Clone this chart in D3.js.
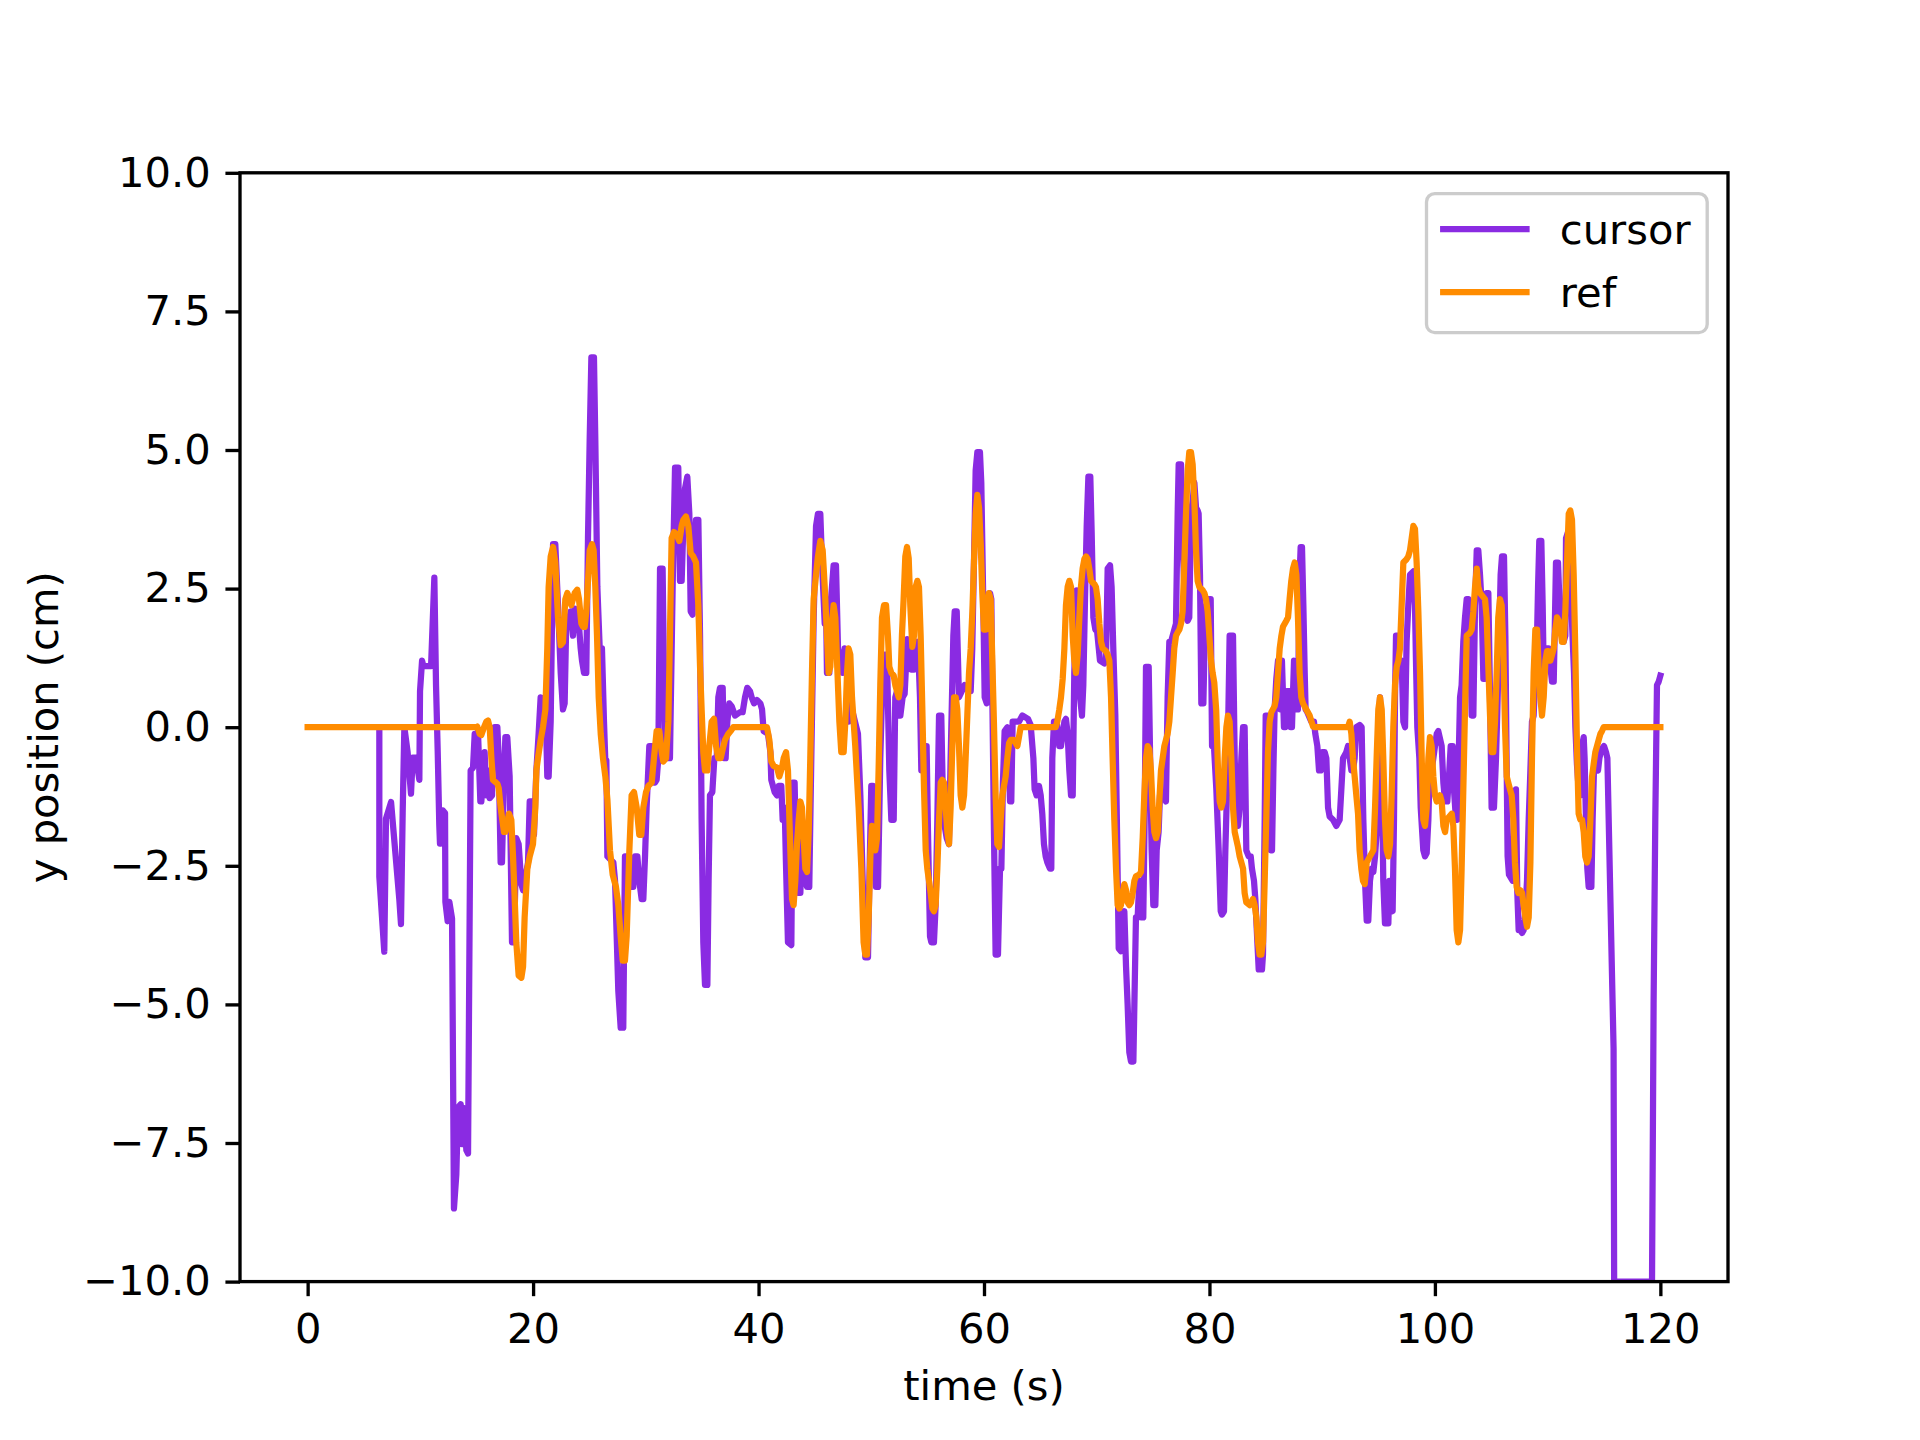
<!DOCTYPE html>
<html>
<head>
<meta charset="utf-8">
<script src="https://cdn.jsdelivr.net/npm/d3@7"></script>
<style>
body { margin: 0; background: #fff; }
svg { display: block; font-family: "DejaVu Sans", sans-serif; }
</style>
</head>
<body>
<div id="chart"></div>
<script>
// [time (s), y position (cm)]
const cursor = [
[6.36,0],[6.36,-2.7],[6.8,-4.05],[6.95,-1.65],[7.4,-1.35],[8.13,-3.1],[8.28,-3.55],[8.43,-1.55],[8.58,0],[8.87,-0.45],
[9.17,-1.2],[9.32,-0.55],[9.61,-0.55],[9.91,-0.95],[9.97,0.65],[10.15,1.2],[10.27,1.1],[10.95,1.1],[11.24,2.7],[11.39,0.75],
[11.54,-0.45],[11.68,-1.77],[11.74,-2.1],[11.98,-1.5],[12.19,-1.55],[12.22,-3.15],[12.42,-3.5],[12.57,-3.15],[12.81,-3.45],[12.98,-8.68],
[13.19,-8.07],[13.34,-6.86],[13.58,-6.8],[13.69,-7.52],[13.78,-6.86],[13.93,-7.08],[14.08,-7.63],[14.23,-7.69],[14.46,-0.78],[14.67,-0.73],
[14.82,-0.12],[14.97,-0.45],[15.11,-0.07],[15.32,-1.34],[15.41,-1.34],[15.7,-0.45],[15.85,-1.23],[16.0,-0.78],[16.15,-1.28],[16.36,-1.23],
[16.44,-0.56],[16.59,0],[16.83,0],[16.95,-0.56],[17.12,-2.44],[17.24,-2.44],[17.42,-0.89],[17.54,-0.18],[17.71,-0.18],[17.92,-0.89],
[18.13,-3.88],[18.31,-3.88],[18.51,-2.0],[18.72,-2.11],[18.96,-2.83],[19.11,-2.94],[19.31,-2.72],[19.55,-2.44],[19.7,-1.34],[19.9,-1.34],
[20.08,-1.94],[20.29,-0.78],[20.49,-0.12],[20.67,0.54],[20.88,0.1],[21.09,0.54],[21.26,-0.89],[21.38,-0.89],[21.56,0.1],[21.77,3.3],
[21.97,3.3],[22.21,2.2],[22.45,0.98],[22.65,0.32],[22.8,0.43],[22.95,1.98],[23.16,1.87],[23.33,2.09],[23.54,1.65],[23.69,2.14],
[23.84,1.76],[24.04,1.92],[24.22,1.42],[24.34,1.2],[24.52,0.98],[24.72,0.98],[24.87,3.41],[25.02,5.18],[25.17,6.67],[25.4,6.67],
[25.52,5.18],[25.7,2.53],[25.91,1.42],[26.11,1.42],[26.29,0.1],[26.4,-0.56],[26.5,-0.6],[26.59,-2.33],[27.12,-2.44],[27.27,-2.77],
[27.56,-4.76],[27.77,-5.42],[28.0,-5.42],[28.15,-2.33],[28.36,-2.33],[28.74,-2.88],[28.89,-2.88],[29.04,-2.33],[29.25,-2.33],[29.42,-2.77],
[29.63,-3.1],[29.78,-3.1],[29.93,-2.33],[30.07,-1.45],[30.31,-0.34],[30.52,-0.34],[30.81,-1.0],[30.96,-0.95],[31.11,-0.56],[31.26,2.86],
[31.49,2.86],[31.61,0.98],[31.76,-0.56],[32.14,-0.56],[32.38,2.53],[32.59,4.68],[32.88,4.68],[33.03,2.64],[33.18,2.64],[33.33,3.63],
[33.47,4.3],[33.68,4.52],[33.86,3.85],[33.98,2.09],[34.15,2.03],[34.27,3.3],[34.45,3.74],[34.66,3.74],[34.81,1.65],[34.95,-1.67],
[35.1,-3.88],[35.25,-4.65],[35.46,-4.65],[35.57,-2.77],[35.69,-1.23],[35.9,-1.17],[36.08,-0.56],[36.29,-0.56],[36.43,0.54],[36.58,0.71],
[36.82,0.71],[36.93,-0.56],[37.08,-0.56],[37.23,0.1],[37.41,0.43],[37.61,0.38],[37.91,0.21],[38.35,0.27],[38.59,0.27],[38.8,0.54],
[39.0,0.71],[39.24,0.65],[39.39,0.54],[39.6,0.43],[39.86,0.49],[40.16,0.43],[40.31,0.32],[40.45,-0.07],[40.84,-0.12],[41.05,-0.45],
[41.13,-0.95],[41.43,-1.17],[41.64,-1.23],[41.78,-1.06],[42.02,-1.06],[42.14,-1.67],[42.32,-1.45],[42.43,-2.44],[42.61,-3.88],[42.91,-3.93],
[43.03,-1.0],[43.2,-1.0],[43.32,-2.22],[43.5,-2.99],[43.71,-2.99],[43.85,-1.67],[44.0,-1.78],[44.15,-2.77],[44.3,-2.88],[44.5,-2.88],
[44.68,-0.56],[44.89,1.98],[45.1,3.63],[45.27,3.85],[45.48,3.85],[45.63,2.97],[45.87,1.87],[45.98,2.31],[46.07,0.98],[46.28,0.98],
[46.43,2.31],[46.66,2.92],[46.87,2.92],[47.05,1.42],[47.25,1.2],[47.46,0.98],[47.64,1.42],[47.85,0.98],[47.99,0.1],[48.29,0.32],
[48.82,-0.12],[49.03,-1.23],[49.24,-2.77],[49.47,-4.15],[49.71,-4.15],[49.83,-2.77],[50.0,-1.06],[50.15,-1.06],[50.3,-2.0],[50.42,-2.88],
[50.6,-2.88],[50.8,-0.56],[51.01,0.98],[51.19,1.31],[51.39,1.31],[51.6,-0.78],[51.78,-1.67],[51.99,-1.67],[52.13,0.54],[52.28,0.65],
[52.43,0.21],[52.58,0.21],[52.78,0.54],[52.96,0.6],[53.2,1.59],[53.35,1.54],[53.55,1.04],[53.79,1.04],[53.94,1.54],[54.14,1.54],
[54.32,0.54],[54.44,-0.78],[54.62,-0.78],[54.74,-0.34],[54.91,-0.34],[55.03,-1.89],[55.21,-3.77],[55.33,-3.88],[55.56,-3.88],[55.71,-3.21],
[55.86,-1.67],[56.01,0.21],[56.21,0.21],[56.39,-1.67],[56.51,-1.78],[56.69,-2.0],[56.89,-2.11],[57.04,-0.56],[57.28,1.65],[57.4,2.09],
[57.58,2.09],[57.78,0.54],[58.28,0.76],[58.67,0.65],[58.82,0.65],[58.96,1.42],[59.11,2.97],[59.26,4.63],[59.41,4.96],[59.64,4.96],
[59.76,4.41],[59.94,2.2],[60.06,0.54],[60.24,0.43],[60.35,1.42],[60.53,2.42],[60.65,2.31],[60.74,0.54],[60.89,-2.0],[61.03,-4.1],
[61.24,-4.1],[61.42,-2.55],[61.54,-2.55],[61.68,-1.0],[61.83,-0.07],[62.07,0],[62.31,-1.34],[62.42,-1.34],[62.54,0.1],[62.81,0.1],
[63.1,0.1],[63.4,0.21],[63.9,0.15],[64.14,0.04],[64.38,-0.56],[64.49,-1.12],[64.67,-1.23],[64.88,-1.06],[65.03,-1.23],[65.17,-1.56],
[65.32,-2.11],[65.47,-2.33],[65.62,-2.44],[65.85,-2.55],[65.97,-2.55],[66.06,-0.56],[66.21,0.1],[66.45,0.1],[66.68,-0.34],[66.83,-0.34],
[67.13,0.1],[67.27,0.15],[67.42,-0.12],[67.57,-0.78],[67.72,-1.23],[67.87,-1.23],[68.01,0.98],[68.22,2.47],[68.4,2.42],[68.52,0.54],
[68.69,0.21],[68.81,0.76],[68.96,2.31],[69.11,3.63],[69.26,4.52],[69.43,4.52],[69.55,3.52],[69.7,1.98],[69.88,1.76],[70.02,1.76],
[70.29,1.2],[70.67,1.15],[70.82,1.2],[70.97,2.86],[71.18,2.92],[71.32,2.53],[71.47,1.42],[71.65,0.21],[71.77,-1.45],[71.95,-3.99],
[72.15,-4.04],[72.3,-3.43],[72.45,-3.32],[72.6,-4.32],[72.74,-5.0],[72.89,-5.86],[73.04,-6.03],[73.25,-6.03],[73.34,-5.0],[73.48,-3.43],
[73.63,-3.43],[73.78,-2.77],[73.93,-3.43],[74.13,-3.43],[74.25,-1.67],[74.37,1.09],[74.61,1.09],[74.72,-0.34],[74.87,-2.22],[75.02,-3.21],
[75.2,-3.21],[75.32,-2.22],[75.49,-1.89],[75.61,-1.23],[75.79,-1.17],[76.14,-1.34],[76.29,0.54],[76.44,1.54],[76.59,1.54],[77.03,1.87],
[77.18,3.85],[77.27,4.74],[77.48,4.74],[77.62,3.3],[77.77,2.53],[77.92,1.98],[78.07,1.92],[78.21,1.98],[78.36,3.85],[78.51,4.08],
[78.66,4.41],[78.81,3.96],[78.95,3.91],[79.04,3.85],[79.16,2.75],[79.28,0.43],[79.46,0.43],[79.63,2.09],[79.84,2.31],[80.11,2.31],
[80.23,-0.34],[80.4,-0.34],[80.61,-1.12],[80.82,-2.22],[81.0,-3.32],[81.11,-3.38],[81.29,-3.32],[81.41,-2.22],[81.59,-0.89],[81.7,0.54],
[81.79,1.65],[82.09,1.65],[82.24,-0.56],[82.38,-1.56],[82.53,-1.78],[82.68,-1.45],[82.83,-0.56],[82.98,0],[83.12,0],[83.27,-2.22],
[83.48,-2.33],[83.66,-2.33],[83.77,-2.55],[83.95,-2.77],[84.07,-3.1],[84.25,-3.88],[84.37,-4.37],[84.66,-4.37],[84.75,-4.1],[84.9,-1.67],
[84.99,0.21],[85.19,0.21],[85.28,-1.23],[85.43,-2.22],[85.55,-2.22],[85.67,-0.78],[85.78,0.32],[85.93,0.87],[86.08,1.2],[86.17,0.54],
[86.29,0.32],[86.43,1.2],[86.61,0],[86.73,0],[86.85,0.65],[87.11,0.65],[87.2,0],[87.32,0],[87.5,1.2],[87.62,1.09],
[87.74,0.32],[87.85,0.32],[88.0,2.75],[88.09,3.25],[88.21,3.25],[88.33,2.2],[88.45,0.98],[88.53,0.32],[88.68,0.27],[89.04,0.1],
[89.27,0.1],[89.39,-0.12],[89.57,-0.34],[89.72,-0.78],[89.87,-0.78],[90.01,-0.45],[90.22,-0.45],[90.37,-0.56],[90.52,-1.45],[90.66,-1.61],
[90.96,-1.67],[91.26,-1.78],[91.55,-1.67],[91.7,-1.12],[91.85,-0.56],[92.14,-0.45],[92.29,-0.34],[92.44,-0.56],[92.59,-0.78],[92.73,-0.78],
[92.88,-0.56],[93.03,0],[93.32,0.04],[93.5,0],[93.65,-1.67],[93.8,-2.77],[93.95,-3.49],[94.09,-3.49],[94.24,-2.77],[94.39,-2.55],
[94.54,-2.61],[94.69,-2.33],[94.83,-1.89],[94.98,-0.56],[95.13,0.54],[95.28,-0.56],[95.42,-2.77],[95.57,-3.54],[95.87,-3.54],[95.96,-2.77],
[96.08,-3.1],[96.25,-3.32],[96.37,-1.67],[96.46,0.54],[96.55,1.65],[96.67,1.65],[96.84,0.98],[97.05,1.2],[97.2,0.1],[97.35,0],
[97.49,1.54],[97.64,2.2],[97.79,2.75],[98.09,2.81],[98.23,2.2],[98.32,1.2],[98.44,0],[98.62,-0.56],[98.74,-1.45],[98.97,-2.22],
[99.12,-2.33],[99.27,-2.27],[99.42,-1.67],[99.56,-0.56],[99.71,-0.78],[99.86,-0.56],[100.16,-0.12],[100.3,-0.07],[100.6,-0.34],[100.75,-1.0],
[100.9,-1.34],[101.1,-1.34],[101.28,-0.78],[101.4,-0.34],[101.58,-0.34],[101.69,-1.12],[101.87,-1.67],[101.99,-1.67],[102.11,-0.56],[102.23,0.54],
[102.37,0.76],[102.52,1.54],[102.67,1.98],[102.82,2.31],[102.97,2.31],[103.11,1.87],[103.26,0.21],[103.41,0.21],[103.56,2.2],[103.71,3.19],
[103.85,3.19],[104.0,2.75],[104.15,2.2],[104.3,0.87],[104.44,0.87],[104.59,2.42],[104.74,2.42],[104.89,0.54],[105.03,-1.45],[105.24,-1.45],
[105.42,-0.56],[105.54,0.32],[105.71,1.65],[105.83,2.75],[105.95,3.08],[106.13,3.08],[106.25,1.65],[106.37,-0.78],[106.45,-2.33],[106.57,-2.66],
[106.9,-2.77],[107.02,-1.67],[107.19,-1.12],[107.31,-2.99],[107.43,-3.66],[107.58,-3.66],[107.73,-3.71],[107.87,-3.66],[108.02,-3.32],[108.17,-2.77],
[108.32,-1.67],[108.47,-0.78],[108.61,0.1],[108.76,0.21],[108.91,0.98],[109.06,1.65],[109.15,2.53],[109.26,3.36],[109.44,3.36],[109.56,2.2],
[109.65,0.98],[109.8,1.42],[110.09,1.42],[110.24,1.09],[110.39,0.82],[110.54,0.82],[110.62,1.65],[110.74,2.97],[110.92,2.97],[111.04,2.31],
[111.13,2.09],[111.27,1.87],[111.42,1.54],[111.57,1.65],[111.63,3.41],[111.81,3.52],[111.93,2.2],[112.1,2.2],[112.34,0.98],[112.46,0],
[112.6,-0.67],[112.75,-1.12],[112.9,-1.23],[113.05,-0.34],[113.2,-0.18],[113.28,-0.56],[113.4,-1.67],[113.52,-2.55],[113.64,-2.88],[113.88,-2.88],
[113.99,-1.67],[114.11,-0.78],[114.29,-0.67],[114.47,-0.78],[114.59,-0.56],[114.76,-0.4],[115.0,-0.34],[115.18,-0.45],[115.3,-0.56],[115.85,-5.8],
[115.9,-10],[119.26,-10],[119.4,-5.0],[119.55,-1.67],[119.7,0.76],[119.85,0.82],[120.0,0.93]
];

const ref = [
[0,0],[14.97,0],[15.05,0.01],[15.26,-0.12],[15.41,-0.14],[15.65,0],[15.85,0.1],[16.0,0.12],[16.15,0],[16.3,-0.56],
[16.44,-0.95],[16.83,-1.02],[16.95,-1.1],[17.12,-1.44],[17.27,-1.67],[17.42,-1.89],[17.54,-1.89],[17.71,-1.72],[17.86,-1.56],[18.07,-1.67],
[18.22,-2.33],[18.37,-3.1],[18.51,-3.88],[18.72,-4.48],[18.96,-4.52],[19.11,-4.32],[19.25,-3.43],[19.49,-2.55],[19.7,-2.33],[19.99,-2.11],
[20.2,-1.45],[20.29,-0.78],[20.43,-0.56],[20.67,-0.23],[20.88,0],[21.09,0.32],[21.26,1.42],[21.38,2.53],[21.56,3.08],[21.77,3.25],
[21.97,2.97],[22.21,1.98],[22.45,1.48],[22.65,1.53],[22.86,2.31],[23.04,2.42],[23.25,2.31],[23.39,2.2],[23.54,2.31],[23.69,2.42],
[23.92,2.48],[24.07,2.31],[24.28,1.87],[24.43,1.81],[24.58,1.81],[24.72,2.09],[24.87,2.64],[25.02,3.19],[25.23,3.3],[25.37,3.19],
[25.52,2.53],[25.67,1.65],[25.82,0.54],[26.0,-0.12],[26.2,-0.56],[26.41,-0.89],[26.59,-1.3],[26.82,-2.22],[27.06,-2.66],[27.35,-2.88],
[27.56,-3.21],[27.77,-3.77],[27.95,-4.21],[28.15,-4.21],[28.3,-3.77],[28.54,-2.22],[28.74,-1.23],[28.95,-1.17],[29.19,-1.45],[29.42,-1.94],
[29.6,-1.94],[29.78,-1.45],[30.02,-1.17],[30.22,-1.06],[30.52,-1.0],[30.72,-0.56],[30.96,-0.07],[31.2,-0.07],[31.41,-0.45],[31.55,-0.62],
[31.79,-0.56],[32.0,0.1],[32.14,1.65],[32.29,3.41],[32.5,3.52],[32.74,3.47],[32.97,3.36],[33.18,3.63],[33.33,3.74],[33.56,3.8],
[33.77,3.63],[33.98,3.14],[34.21,3.08],[34.45,2.97],[34.66,2.2],[34.81,1.09],[34.95,0.32],[35.1,-0.45],[35.25,-0.78],[35.46,-0.78],
[35.63,-0.34],[35.84,0.1],[36.05,0.15],[36.23,-0.34],[36.43,-0.56],[36.64,-0.56],[36.82,-0.4],[37.02,-0.23],[37.32,-0.12],[37.53,-0.07],
[37.76,0],[40.75,0],[40.96,-0.23],[41.13,-0.62],[41.34,-0.7],[41.64,-0.73],[41.84,-0.89],[42.08,-0.73],[42.23,-0.56],[42.44,-0.45],
[42.61,-0.78],[42.82,-2.22],[42.97,-3.1],[43.11,-3.21],[43.26,-2.77],[43.41,-2.11],[43.56,-1.67],[43.71,-1.34],[43.85,-1.45],[44.0,-2.0],
[44.15,-2.55],[44.3,-2.61],[44.45,-1.89],[44.59,-0.56],[44.74,0.98],[44.89,2.31],[45.1,2.75],[45.27,3.08],[45.48,3.36],[45.69,3.19],
[45.87,2.53],[46.07,1.65],[46.22,0.98],[46.37,1.09],[46.52,1.87],[46.66,2.2],[46.81,1.98],[46.96,1.2],[47.17,0.1],[47.34,-0.45],
[47.55,-0.45],[47.7,0.1],[47.85,0.98],[47.99,1.42],[48.14,1.31],[48.29,0.54],[48.58,-0.34],[48.88,-1.45],[49.12,-2.55],[49.32,-3.88],
[49.47,-4.1],[49.62,-4.1],[49.77,-3.43],[49.92,-2.33],[50.06,-1.78],[50.24,-1.89],[50.36,-2.22],[50.51,-2.0],[50.65,-0.78],[50.8,0.76],
[50.95,1.98],[51.13,2.2],[51.31,2.2],[51.48,1.65],[51.6,1.09],[51.78,0.98],[51.99,0.93],[52.13,0.76],[52.28,0.65],[52.43,0.54],
[52.58,0.76],[52.72,1.65],[52.87,2.31],[53.02,3.08],[53.17,3.25],[53.32,3.05],[53.46,2.2],[53.64,1.45],[53.79,1.65],[53.94,2.53],
[54.09,2.64],[54.23,2.53],[54.38,1.65],[54.53,0.32],[54.68,-1.12],[54.83,-2.22],[54.97,-2.55],[55.12,-2.77],[55.27,-2.99],[55.42,-3.27],
[55.56,-3.32],[55.71,-3.21],[55.86,-2.55],[56.01,-1.67],[56.16,-1.0],[56.3,-0.95],[56.45,-1.0],[56.6,-1.45],[56.75,-1.89],[56.9,-2.11],
[57.04,-1.45],[57.19,-0.34],[57.34,0.54],[57.49,0.54],[57.63,0.32],[57.78,-0.34],[57.93,-1.23],[58.08,-1.45],[58.23,-1.23],[58.37,-0.56],
[58.52,0.21],[58.67,0.98],[58.82,1.42],[58.97,2.09],[59.11,2.97],[59.26,3.85],[59.41,4.19],[59.56,3.96],[59.71,3.3],[59.85,2.42],
[60.0,1.76],[60.15,1.76],[60.3,2.2],[60.44,2.42],[60.59,2.31],[60.74,1.2],[60.89,0],[61.03,-1.23],[61.18,-2.11],[61.33,-2.16],
[61.48,-1.67],[61.63,-1.23],[61.77,-1.06],[61.92,-0.89],[62.07,-0.56],[62.22,-0.29],[62.37,-0.23],[62.66,-0.23],[62.96,-0.34],[63.1,-0.18],
[63.25,0],[66.36,0],[66.5,0.1],[66.68,0.32],[66.83,0.54],[66.98,0.87],[67.13,1.42],[67.27,2.2],[67.42,2.53],[67.57,2.64],
[67.72,2.53],[67.87,1.65],[68.01,1.2],[68.16,0.98],[68.31,1.31],[68.46,1.98],[68.6,2.53],[68.75,2.86],[68.9,3.03],[69.05,3.08],
[69.2,3.03],[69.34,2.86],[69.49,2.64],[69.79,2.58],[69.93,2.53],[70.08,2.31],[70.23,1.87],[70.38,1.54],[70.53,1.42],[70.82,1.37],
[70.97,1.31],[71.12,1.2],[71.27,0.54],[71.41,-0.56],[71.56,-1.67],[71.71,-2.55],[71.86,-3.21],[72.0,-3.27],[72.15,-3.21],[72.3,-2.99],
[72.45,-2.83],[72.6,-2.94],[72.74,-3.16],[72.89,-3.21],[73.04,-3.16],[73.19,-2.99],[73.34,-2.77],[73.48,-2.69],[73.78,-2.66],[73.93,-2.61],
[74.08,-1.99],[74.22,-1.23],[74.37,-0.56],[74.52,-0.34],[74.67,-0.4],[74.81,-0.78],[74.96,-1.45],[75.11,-1.89],[75.26,-2.0],[75.41,-1.89],
[75.55,-1.34],[75.7,-0.78],[75.85,-0.56],[76.0,-0.34],[76.14,-0.23],[76.29,-0.12],[76.44,0.1],[76.59,0.54],[76.74,0.98],[76.88,1.42],
[77.03,1.65],[77.18,1.71],[77.33,1.76],[77.48,1.87],[77.62,2.09],[77.77,2.97],[77.92,3.85],[78.07,4.63],[78.21,4.96],[78.36,4.96],
[78.51,4.74],[78.66,4.08],[78.81,3.19],[78.95,2.64],[79.1,2.53],[79.4,2.47],[79.55,2.42],[79.69,2.31],[79.84,2.09],[79.99,1.65],
[80.14,1.2],[80.28,0.98],[80.43,0.8],[80.6,0.3],[80.76,-0.78],[80.91,-1.34],[81.05,-1.45],[81.2,-1.34],[81.35,-0.56],[81.5,0],
[81.64,0.21],[81.79,0.1],[81.94,-0.56],[82.09,-1.45],[82.24,-1.89],[82.53,-2.16],[82.68,-2.33],[82.98,-2.55],[83.12,-2.99],[83.27,-3.16],
[83.57,-3.21],[83.86,-3.1],[84.01,-3.21],[84.16,-3.43],[84.31,-3.88],[84.45,-4.1],[84.6,-4.1],[84.75,-3.88],[84.9,-2.77],[85.05,-1.56],
[85.19,-0.45],[85.34,0.1],[85.49,0.27],[85.78,0.38],[85.93,0.54],[86.08,0.98],[86.23,1.42],[86.38,1.65],[86.52,1.81],[86.82,1.92],
[86.97,1.98],[87.11,2.31],[87.26,2.64],[87.41,2.86],[87.56,2.97],[87.71,2.75],[87.85,1.98],[88.0,0.98],[88.15,0.54],[88.3,0.43],
[88.59,0.32],[88.89,0.21],[89.19,0.01],[89.33,0],[92.29,0],[92.44,0.1],[92.59,-0.12],[92.73,-0.56],[92.88,-0.89],[93.03,-1.23],
[93.18,-1.56],[93.32,-2.22],[93.47,-2.55],[93.62,-2.77],[93.77,-2.83],[93.95,-2.44],[94.24,-2.33],[94.54,-2.22],[94.69,-1.45],[94.83,-0.56],
[94.98,0.32],[95.13,0.54],[95.28,0.32],[95.42,-0.56],[95.57,-1.67],[95.72,-2.22],[95.87,-2.33],[96.02,-2.11],[96.16,-1.23],[96.31,0],
[96.46,0.76],[96.61,1.09],[96.76,1.2],[96.9,1.42],[97.05,2.2],[97.2,2.97],[97.49,3.03],[97.64,3.08],[97.79,3.19],[97.94,3.41],
[98.09,3.63],[98.23,3.58],[98.38,2.97],[98.53,2.09],[98.68,0.98],[98.83,-0.56],[98.97,-1.67],[99.12,-1.78],[99.27,-1.45],[99.42,-0.56],
[99.56,-0.18],[99.71,-0.34],[99.86,-0.89],[100.01,-1.23],[100.16,-1.34],[100.45,-1.23],[100.6,-1.34],[100.75,-1.78],[100.9,-1.89],[101.04,-1.67],
[101.49,-1.56],[101.63,-1.78],[101.78,-2.55],[101.93,-3.66],[102.08,-3.88],[102.23,-3.66],[102.37,-2.55],[102.52,-1.12],[102.67,0.32],[102.82,1.65],
[103.11,1.7],[103.26,1.76],[103.41,2.09],[103.56,2.53],[103.71,2.86],[103.85,2.53],[104.0,2.42],[104.44,2.31],[104.59,1.98],[104.74,1.09],
[104.89,0.21],[105.03,-0.45],[105.18,-0.45],[105.33,0.1],[105.48,0.98],[105.62,1.98],[105.77,2.31],[105.92,2.2],[106.07,1.42],[106.22,0],
[106.37,-0.89],[106.66,-1.12],[106.81,-1.23],[106.96,-1.67],[107.1,-2.44],[107.25,-2.88],[107.4,-2.99],[107.58,-2.94],[107.73,-2.99],[107.87,-3.21],
[108.02,-3.43],[108.17,-3.6],[108.32,-3.43],[108.47,-2.44],[108.61,-0.56],[108.76,0.98],[108.91,1.76],[109.06,1.76],[109.2,1.09],[109.35,0.54],
[109.5,0.21],[109.65,0.54],[109.8,1.2],[109.94,1.37],[110.09,1.37],[110.24,1.2],[110.39,1.31],[110.54,1.42],[110.68,1.76],[110.83,1.98],
[110.98,1.92],[111.13,1.76],[111.27,1.54],[111.42,1.54],[111.57,2.09],[111.72,2.97],[111.87,3.85],[112.01,3.91],[112.16,3.74],[112.31,2.75],
[112.46,1.31],[112.6,-0.34],[112.75,-1.56],[112.9,-1.67],[113.05,-1.67],[113.2,-1.89],[113.34,-2.33],[113.49,-2.44],[113.64,-2.33],[113.79,-1.67],
[113.94,-0.89],[114.08,-0.67],[114.23,-0.45],[114.38,-0.34],[114.53,-0.23],[114.68,-0.12],[114.82,-0.07],[114.97,0],[120,0]
];

const seriesNames = ["cursor", "ref"];
const seriesColors = ["#8a2be2", "#ff8c00"];
const xTicks = [0, 20, 40, 60, 80, 100, 120];
const yTicks = [-10, -7.5, -5, -2.5, 0, 2.5, 5, 7.5, 10];

var width = 1920, height = 1440;
var margin = {top: 172.8, right: 192, bottom: 158.4, left: 240};
var fontSize = 41.67, tick = 14.58, lw = 6.25, spineW = 3.33;

var svg = d3.select("#chart").append("svg")
	.attr("width", width)
	.attr("height", height);

svg.append("rect").attr("width", width).attr("height", height).attr("fill", "#fff");

var x = d3.scaleLinear()
	.domain([-6, 126])
	.range([margin.left, width - margin.right]);

var y = d3.scaleLinear()
	.domain([-10, 10])
	.range([height - margin.bottom, margin.top]);

svg.append("clipPath").attr("id", "plot-clip")
	.append("rect")
	.attr("x", margin.left).attr("y", margin.top)
	.attr("width", width - margin.left - margin.right)
	.attr("height", height - margin.top - margin.bottom);

var line = d3.line().x(d => x(d[0])).y(d => y(d[1]));

svg.append("g")
	.attr("clip-path", "url(#plot-clip)")
	.selectAll("path")
	.data([cursor, ref])
	.join("path")
	.attr("d", line)
	.attr("fill", "none")
	.attr("stroke", (d, i) => seriesColors[i])
	.attr("stroke-width", lw)
	.attr("stroke-linejoin", "round")
	.attr("stroke-linecap", "square");

// spines
svg.append("rect")
	.attr("x", margin.left).attr("y", margin.top)
	.attr("width", width - margin.left - margin.right)
	.attr("height", height - margin.top - margin.bottom)
	.attr("fill", "none")
	.attr("stroke", "#000")
	.attr("stroke-width", spineW);

var xAxis = g => g.attr("transform", `translate(0,${height - margin.bottom})`)
	.call(d3.axisBottom(x).tickValues(xTicks).tickSize(tick).tickPadding(17).tickFormat(d3.format("d")))
	.call(g => g.select(".domain").remove());

var yAxis = g => g.attr("transform", `translate(${margin.left},0)`)
	.call(d3.axisLeft(y).tickValues(yTicks).tickSize(tick).tickPadding(tick).tickFormat(d3.format(".1f")))
	.call(g => g.select(".domain").remove());

svg.append("g").call(xAxis);
svg.append("g").call(yAxis);

svg.selectAll(".tick line").attr("stroke", "#000").attr("stroke-width", spineW);
svg.selectAll(".tick text")
	.attr("fill", "#000")
	.style("font-family", "DejaVu Sans")
	.style("font-size", fontSize + "px");

svg.append("text")
	.attr("x", (margin.left + width - margin.right) / 2)
	.attr("y", 1400)
	.attr("text-anchor", "middle")
	.style("font-size", fontSize + "px")
	.text("time (s)");

svg.append("text")
	.attr("transform", `translate(58,${(margin.top + height - margin.bottom) / 2}) rotate(-90)`)
	.attr("text-anchor", "middle")
	.style("font-size", fontSize + "px")
	.text("y position (cm)");

// legend
var legend = svg.append("g");
legend.append("rect")
	.attr("x", 1426.5).attr("y", 193.6)
	.attr("width", 280.7).attr("height", 139)
	.attr("rx", 8.3)
	.attr("fill", "#fff").attr("fill-opacity", 0.8)
	.attr("stroke", "#cccccc").attr("stroke-width", 3.33);

var items = legend.selectAll("g.item")
	.data(seriesNames)
	.join("g")
	.attr("class", "item")
	.attr("transform", (d, i) => `translate(0,${229 + i * 63})`);

items.append("line")
	.attr("x1", 1443.2).attr("x2", 1526.5)
	.attr("stroke", (d, i) => seriesColors[i])
	.attr("stroke-width", lw)
	.attr("stroke-linecap", "square");

items.append("text")
	.attr("x", 1559.8).attr("y", 15)
	.style("font-size", fontSize + "px")
	.text(d => d);
</script>
